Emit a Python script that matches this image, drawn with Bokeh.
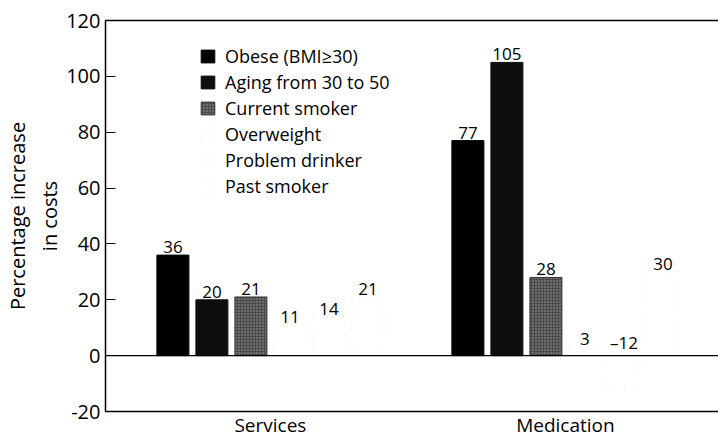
from bokeh.plotting import figure
from bokeh.models import (Range1d, LinearAxis, FixedTicker, Span, Legend, LegendItem,
                          ColumnDataSource)
from bokeh.core.properties import value
from bokeh.embed import file_html
from bokeh.resources import INLINE

# ---- data ----
groups = ["Services", "Medication"]
series = ["Obese (BMI\u226530)", "Aging from 30 to 50", "Current smoker",
          "Overweight", "Problem drinker", "Past smoker"]
services = [36, 20, 21, 11, 14, 21]
medication = [77, 105, 28, 3, -12, 30]
y_ticks = [-20, 0, 20, 40, 60, 80, 100, 120]
y_tick_labels = {-20: "-20", 0: "0", 20: "20", 40: "40", 60: "60", 80: "80",
                 100: "100", 120: "120"}

# ---- styles ----
fills = ["#000000", "#0e0e0e", "#4a4a4a", "#ffffff", "#ffffff", "#ffffff"]
hatches = [None, None, "dot", None, None, None]
lines = ["#000000", "#0e0e0e", "#333333", "#e2e2e2", "#e2e2e2", "#e2e2e2"]
dashes = ["solid", "solid", "solid", "1 9", "1 9", "1 9"]

FONT = "Open Sans"
slot = 39 / 295.0          # bar slot in group units
bar_w = 32 / 295.0
group_x = [0, 1]
x_start = -0.559

p = figure(width=718, height=440, output_backend="svg", toolbar_location=None,
           x_range=Range1d(x_start, x_start + 613 / 295.0), y_range=Range1d(-20, 120),
           min_border_left=103, min_border_right=0, min_border_top=20, min_border_bottom=29)
p.outline_line_color = None
p.grid.visible = False
p.background_fill_color = "white"

vals = [services, medication]
items = []
for i, name in enumerate(series):
    xs = [g + (i - 2.5) * slot for g in group_x]
    tops = [vals[k][i] for k in range(len(groups))]
    src = ColumnDataSource(dict(x=xs, top=tops, bottom=[0] * len(xs)))
    kw = dict(x="x", top="top", bottom="bottom", width=bar_w, source=src,
              fill_color=fills[i], line_color=lines[i], line_dash=dashes[i], line_width=1)
    if hatches[i]:
        kw.update(hatch_pattern=hatches[i], hatch_color="white", hatch_scale=3,
                  hatch_weight=1, hatch_alpha=0.5)
    r = p.vbar(**kw)
    items.append(LegendItem(label=name, renderers=[r]))
    labels = [("\u2013" + str(abs(v))) if v < 0 else str(v) for v in tops]
    p.text(x=xs, y=[max(v, 0) for v in tops], text=labels, text_align="center",
           text_baseline="bottom", y_offset=-2, text_font=value(FONT),
           text_font_size="17px", text_color="black")

p.add_layout(Span(location=0, dimension="width", line_color="black", line_width=1.3))

# axes
ya = p.yaxis[0]
ya.ticker = FixedTicker(ticks=y_ticks)
ya.major_label_overrides = y_tick_labels
ya.major_tick_in = 10
ya.major_tick_out = 0
ya.minor_tick_line_color = None
ya.axis_line_width = 1.5
ya.major_label_text_font = FONT
ya.major_label_text_font_size = "20px"
ya.major_label_text_color = "black"
ya.major_label_standoff = 5
ya.axis_label = "Percentage increase\nin costs"
ya.axis_label_text_font = FONT
ya.axis_label_text_font_size = "20px"
ya.axis_label_text_font_style = "normal"
ya.axis_label_text_color = "black"
ya.axis_label_standoff = 0

xa = p.xaxis[0]
xa.ticker = FixedTicker(ticks=group_x)
xa.major_label_overrides = {0: groups[0], 1: groups[1]}
xa.major_tick_line_color = None
xa.major_tick_out = 0
xa.major_tick_in = 0
xa.minor_tick_line_color = None
xa.axis_line_width = 1.5
xa.major_label_text_font = FONT
xa.major_label_text_font_size = "19px"
xa.major_label_text_color = "black"
xa.major_label_standoff = 0

top_axis = LinearAxis(ticker=FixedTicker(ticks=[]), major_label_text_font_size="0px",
                      major_tick_line_color=None, minor_tick_line_color=None,
                      major_tick_out=0, major_tick_in=0, major_label_standoff=0,
                      axis_line_width=1.5)
p.add_layout(top_axis, "above")

legend = Legend(items=items, location=(94, 213), orientation="vertical",
                background_fill_alpha=0, border_line_color=None,
                glyph_width=17, glyph_height=16, label_height=20, spacing=2,
                padding=0, margin=0, label_standoff=9,
                label_text_font=FONT, label_text_font_size="18px", label_text_color="black")
p.add_layout(legend, "center")

open("out.html", "w").write(file_html(p, INLINE))
